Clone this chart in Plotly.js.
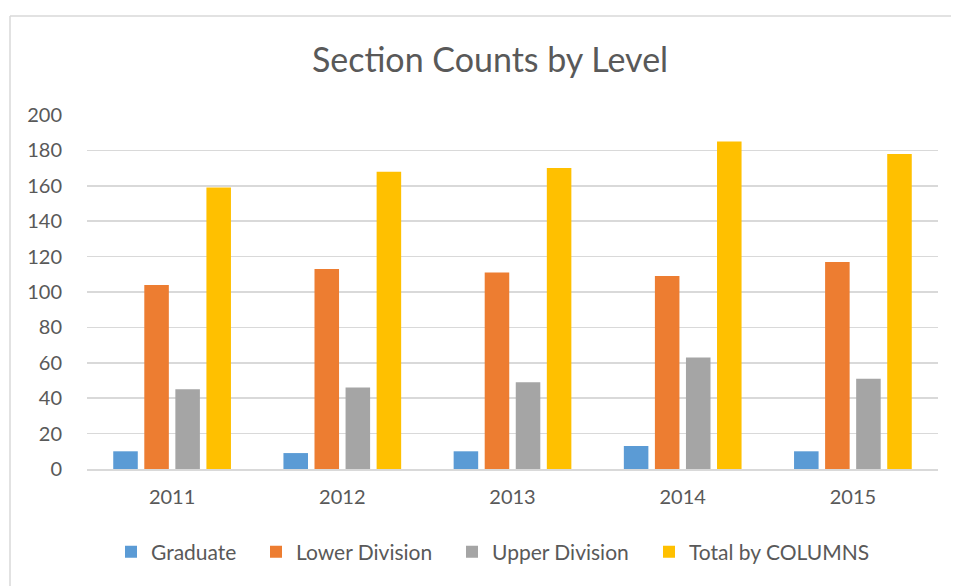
<!DOCTYPE html>
<html>
<head>
<meta charset="utf-8">
<script src="https://cdn.plot.ly/plotly-3.0.1.min.js"></script>
<style>html,body{margin:0;padding:0;background:#fff;}#chart{width:958px;height:586px;}</style>
</head>
<body>
<div id="chart"></div>
<script>
const years = ["2011", "2012", "2013", "2014", "2015"];
const graduate = [10, 9, 10, 13, 10];
const lowerDivision = [104, 113, 111, 109, 117];
const upperDivision = [45, 46, 49, 63, 51];
const totalByColumns = [159, 168, 170, 185, 178];
const seriesNames = ["Graduate", "Lower Division", "Upper Division", "Total by COLUMNS"];
const yTicks = [0, 20, 40, 60, 80, 100, 120, 140, 160, 180, 200];

const colors = ["#5b9bd5", "#ed7d31", "#a5a5a5", "#ffc000"];
const seriesValues = [graduate, lowerDivision, upperDivision, totalByColumns];
const FONT = "Lato, 'Open Sans', sans-serif";
const TXT = "#595959";
const legendIds = ["legend", "legend2", "legend3", "legend4"];
const legendStartPx = [125, 270, 466, 663];

const traces = seriesValues.map((vals, i) => ({
  type: "bar",
  name: seriesNames[i],
  x: years,
  y: vals,
  legend: legendIds[i],
  marker: {color: colors[i], line: {width: 0}},
  hoverinfo: "x+y+name"
}));

// plot area in pixels
const L = 87, R = 938, T = 115, B = 469, W = 958, H = 586;
const px = v => (v - L) / (R - L);
const py = v => (B - v) / (B - T);

const layout = {
  width: W, height: H,
  margin: {l: L, r: W - R, t: T, b: H - B, pad: 0},
  paper_bgcolor: "#ffffff",
  plot_bgcolor: "#ffffff",
  font: {family: FONT, color: TXT, size: 20},
  title: {
    text: "Section Counts by Level",
    font: {family: FONT, size: 34, color: TXT},
    x: 490 / W, xref: "container", xanchor: "center",
    y: 1 - 60 / H, yref: "container", yanchor: "middle"
  },
  barmode: "group",
  bargap: 0.27,
  bargroupgap: 0.21,
  xaxis: {
    type: "category",
    showgrid: false,
    showline: true, linecolor: "#d9d9d9", linewidth: 1.5,
    ticks: "outside", ticklen: 9, tickcolor: "rgba(0,0,0,0)",
    tickfont: {family: FONT, size: 20, color: TXT},
    zeroline: false, fixedrange: true
  },
  yaxis: {
    range: [0, 200],
    tickvals: yTicks,
    ticktext: yTicks.map(String),
    showgrid: true, gridcolor: "#d9d9d9", gridwidth: 1.5,
    showline: false, zeroline: false,
    ticks: "outside", ticklen: 20, tickcolor: "rgba(0,0,0,0)",
    tickfont: {family: FONT, size: 20, color: TXT},
    fixedrange: true
  },
  showlegend: true,
  shapes: [
    {type: "line", xref: "paper", yref: "paper", x0: px(10), x1: px(951), y0: py(16), y1: py(16), line: {color: "#d9d9d9", width: 1.5}},
    {type: "line", xref: "paper", yref: "paper", x0: px(10), x1: px(10), y0: py(16), y1: py(600), line: {color: "#d9d9d9", width: 1.5}}
  ]
};

legendIds.forEach((id, i) => {
  layout[id] = {
    orientation: "h",
    x: px(legendStartPx[i] - 14), xanchor: "left",
    y: py(552), yanchor: "middle",
    font: {family: FONT, size: 21, color: TXT},
    itemwidth: 30,
    bgcolor: "rgba(0,0,0,0)"
  };
});

Plotly.newPlot("chart", traces, layout, {displayModeBar: false, staticPlot: true});
</script>
</body>
</html>
